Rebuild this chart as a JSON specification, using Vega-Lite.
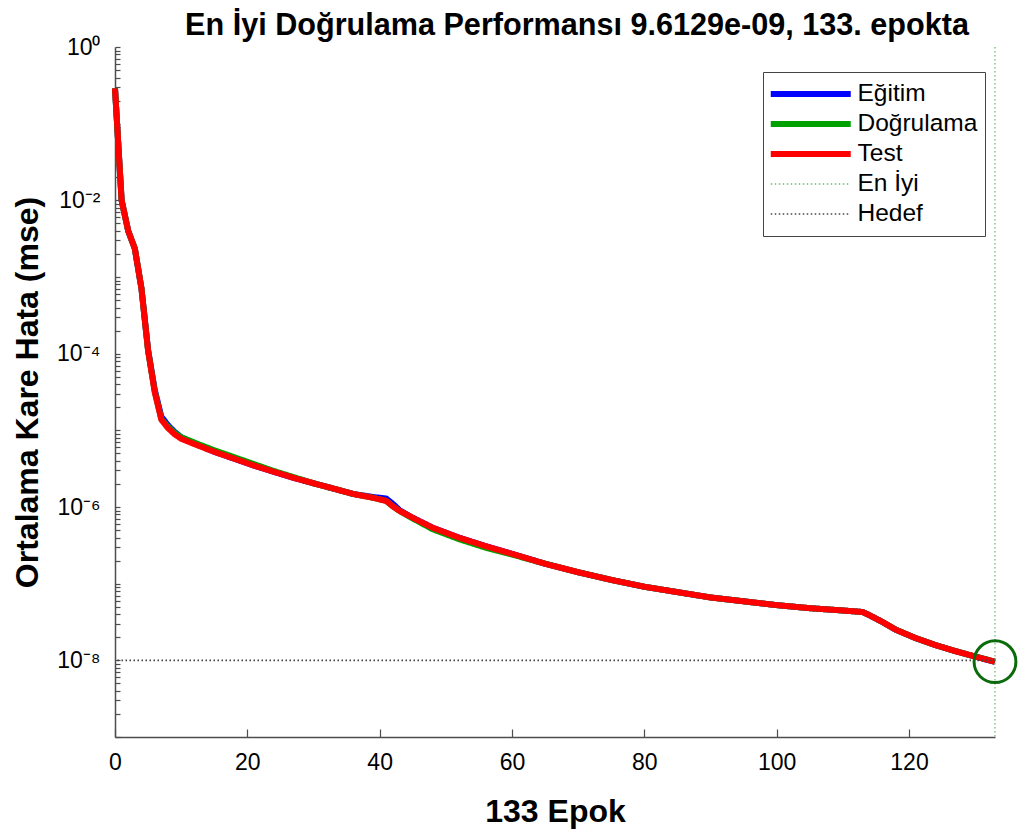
{
  "$schema": "https://vega.github.io/schema/vega-lite/v6.json",
  "width": 880,
  "height": 690,
  "autosize": {"type": "none"},
  "padding": {"left": 115, "top": 47, "right": 26, "bottom": 97},
  "background": "white",
  "title": {
    "text": "En İyi Doğrulama Performansı 9.6129e-09, 133. epokta",
    "font": "Liberation Sans",
    "fontSize": 30.6,
    "fontWeight": "bold",
    "color": "black",
    "anchor": "middle",
    "dx": 22,
    "offset": -6
  },
  "config": {
    "view": {"stroke": null},
    "axis": {
      "grid": false,
      "domainColor": "#4d4d4d",
      "domainWidth": 1.5,
      "tickColor": "#4d4d4d",
      "tickWidth": 1.2,
      "labelFont": "Liberation Sans",
      "labelFontSize": 23,
      "labelColor": "black",
      "titleFont": "Liberation Sans",
      "titleFontSize": 32,
      "titleFontWeight": "bold",
      "titleColor": "black"
    }
  },
  "datasets": {
    "curves": [
      {"epoch": 0, "Eğitim": 0.288, "Doğrulama": 0.288, "Test": 0.288},
      {"epoch": 1, "Eğitim": 0.0100, "Doğrulama": 0.0100, "Test": 0.0100},
      {"epoch": 2, "Eğitim": 0.00398, "Doğrulama": 0.00398, "Test": 0.00398},
      {"epoch": 3, "Eğitim": 0.00234, "Doğrulama": 0.00234, "Test": 0.00234},
      {"epoch": 4, "Eğitim": 0.000708, "Doğrulama": 0.000708, "Test": 0.000708},
      {"epoch": 5, "Eğitim": 0.000112, "Doğrulama": 0.000110, "Test": 0.000110},
      {"epoch": 6, "Eğitim": 0.0000339, "Doğrulama": 0.0000324, "Test": 0.0000316},
      {"epoch": 7, "Eğitim": 0.0000151, "Doğrulama": 0.0000141, "Test": 0.0000138},
      {"epoch": 8, "Eğitim": 0.0000117, "Doğrulama": 0.0000112, "Test": 0.0000107},
      {"epoch": 9, "Eğitim": 0.00000955, "Doğrulama": 0.00000933, "Test": 0.00000891},
      {"epoch": 10, "Eğitim": 0.00000813, "Doğrulama": 0.00000813, "Test": 0.00000776},
      {"epoch": 12, "Eğitim": 0.00000676, "Doğrulama": 0.00000692, "Test": 0.00000661},
      {"epoch": 15, "Eğitim": 0.00000525, "Doğrulama": 0.00000550, "Test": 0.00000525},
      {"epoch": 18, "Eğitim": 0.00000427, "Doğrulama": 0.00000447, "Test": 0.00000427},
      {"epoch": 21, "Eğitim": 0.00000347, "Doğrulama": 0.00000363, "Test": 0.00000347},
      {"epoch": 24, "Eğitim": 0.00000288, "Doğrulama": 0.00000295, "Test": 0.00000288},
      {"epoch": 27, "Eğitim": 0.00000240, "Doğrulama": 0.00000245, "Test": 0.00000240},
      {"epoch": 30, "Eğitim": 0.00000204, "Doğrulama": 0.00000204, "Test": 0.00000204},
      {"epoch": 33, "Eğitim": 0.00000174, "Doğrulama": 0.00000174, "Test": 0.00000174},
      {"epoch": 36, "Eğitim": 0.00000148, "Doğrulama": 0.00000148, "Test": 0.00000148},
      {"epoch": 39, "Eğitim": 0.00000135, "Doğrulama": 0.00000132, "Test": 0.00000132},
      {"epoch": 40, "Eğitim": 0.00000132, "Doğrulama": 0.00000126, "Test": 0.00000126},
      {"epoch": 41, "Eğitim": 0.00000129, "Doğrulama": 0.00000120, "Test": 0.00000120},
      {"epoch": 42, "Eğitim": 0.00000110, "Doğrulama": 0.00000102, "Test": 0.00000102},
      {"epoch": 43, "Eğitim": 0.000000912, "Doğrulama": 0.000000891, "Test": 0.000000891},
      {"epoch": 45, "Eğitim": 0.000000724, "Doğrulama": 0.000000708, "Test": 0.000000724},
      {"epoch": 48, "Eğitim": 0.000000537, "Doğrulama": 0.000000513, "Test": 0.000000537},
      {"epoch": 52, "Eğitim": 0.000000398, "Doğrulama": 0.000000380, "Test": 0.000000398},
      {"epoch": 56, "Eğitim": 0.000000309, "Doğrulama": 0.000000295, "Test": 0.000000309},
      {"epoch": 60, "Eğitim": 0.000000245, "Doğrulama": 0.000000240, "Test": 0.000000245},
      {"epoch": 65, "Eğitim": 0.000000182, "Doğrulama": 0.000000182, "Test": 0.000000182},
      {"epoch": 70, "Eğitim": 0.000000141, "Doğrulama": 0.000000141, "Test": 0.000000141},
      {"epoch": 75, "Eğitim": 0.000000112, "Doğrulama": 0.000000112, "Test": 0.000000112},
      {"epoch": 80, "Eğitim": 0.0000000912, "Doğrulama": 0.0000000912, "Test": 0.0000000912},
      {"epoch": 85, "Eğitim": 0.0000000776, "Doğrulama": 0.0000000776, "Test": 0.0000000776},
      {"epoch": 90, "Eğitim": 0.0000000661, "Doğrulama": 0.0000000661, "Test": 0.0000000661},
      {"epoch": 95, "Eğitim": 0.0000000589, "Doğrulama": 0.0000000589, "Test": 0.0000000589},
      {"epoch": 100, "Eğitim": 0.0000000525, "Doğrulama": 0.0000000525, "Test": 0.0000000525},
      {"epoch": 105, "Eğitim": 0.0000000479, "Doğrulama": 0.0000000479, "Test": 0.0000000479},
      {"epoch": 110, "Eğitim": 0.0000000447, "Doğrulama": 0.0000000447, "Test": 0.0000000447},
      {"epoch": 113, "Eğitim": 0.0000000427, "Doğrulama": 0.0000000427, "Test": 0.0000000427},
      {"epoch": 114, "Eğitim": 0.0000000389, "Doğrulama": 0.0000000389, "Test": 0.0000000389},
      {"epoch": 116, "Eğitim": 0.0000000316, "Doğrulama": 0.0000000316, "Test": 0.0000000316},
      {"epoch": 118, "Eğitim": 0.0000000251, "Doğrulama": 0.0000000251, "Test": 0.0000000251},
      {"epoch": 121, "Eğitim": 0.0000000195, "Doğrulama": 0.0000000195, "Test": 0.0000000195},
      {"epoch": 124, "Eğitim": 0.0000000158, "Doğrulama": 0.0000000158, "Test": 0.0000000158},
      {"epoch": 127, "Eğitim": 0.0000000132, "Doğrulama": 0.0000000132, "Test": 0.0000000132},
      {"epoch": 130, "Eğitim": 0.0000000112, "Doğrulama": 0.0000000112, "Test": 0.0000000112},
      {"epoch": 133, "Eğitim": 0.00000000955, "Doğrulama": 0.0000000096129, "Test": 0.00000000955}
    ],
    "best": [{"series": "En İyi", "epoch": 133, "mse": 0.0000000096129}],
    "goal": [{"series": "Hedef", "mse": 0.00000001}]
  },
  "layer": [
    {
      "data": {"name": "curves"},
      "transform": [{"fold": ["Eğitim", "Doğrulama", "Test"], "as": ["series", "mse"]}],
      "mark": {"type": "line", "strokeWidth": 6, "strokeJoin": "round", "strokeCap": "butt"},
      "encoding": {
        "x": {
          "field": "epoch",
          "type": "quantitative",
          "scale": {"domain": [0, 133], "nice": false, "zero": false},
          "axis": {
            "title": "133 Epok",
            "values": [0, 20, 40, 60, 80, 100, 120],
            "tickSize": -8,
            "labelPadding": 22,
            "titlePadding": 22,
            "labelFlush": false
          }
        },
        "y": {
          "field": "mse",
          "type": "quantitative",
          "scale": {"type": "log", "domain": [1e-9, 1], "nice": false},
          "axis": {
            "title": "Ortalama Kare Hata (mse)",
            "values": [1e-9, 2e-9, 3e-9, 4e-9, 5e-9, 6e-9, 7e-9, 8e-9, 9e-9,
                       1e-8, 2e-8, 3e-8, 4e-8, 5e-8, 6e-8, 7e-8, 8e-8, 9e-8,
                       1e-7, 2e-7, 3e-7, 4e-7, 5e-7, 6e-7, 7e-7, 8e-7, 9e-7,
                       1e-6, 2e-6, 3e-6, 4e-6, 5e-6, 6e-6, 7e-6, 8e-6, 9e-6,
                       1e-5, 2e-5, 3e-5, 4e-5, 5e-5, 6e-5, 7e-5, 8e-5, 9e-5,
                       0.0001, 0.0002, 0.0003, 0.0004, 0.0005, 0.0006, 0.0007, 0.0008, 0.0009,
                       0.001, 0.002, 0.003, 0.004, 0.005, 0.006, 0.007, 0.008, 0.009,
                       0.01, 0.02, 0.03, 0.04, 0.05, 0.06, 0.07, 0.08, 0.09,
                       0.1, 0.2, 0.3, 0.4, 0.5, 0.6, 0.7, 0.8, 0.9, 1],
            "labelExpr": "datum.value == 1 ? '10⁰' : datum.value == 0.01 ? '10⁻²' : datum.value == 0.0001 ? '10⁻⁴' : datum.value == 0.000001 ? '10⁻⁶' : datum.value == 1e-8 ? '10⁻⁸' : ''",
            "labelOverlap": false,
            "labelFlush": false,
            "labelAlign": "right",
            "tickSize": -5,
            "labelPadding": 20,
            "titlePadding": 12
          }
        },
        "color": {
          "field": "series",
          "type": "nominal",
          "scale": {
            "domain": ["Eğitim", "Doğrulama", "Test", "En İyi", "Hedef"],
            "range": ["#0000ff", "#00a000", "#ff0000", "#6cbf6c", "#444444"]
          },
          "legend": {
            "title": null,
            "orient": "none",
            "legendX": 648,
            "legendY": 25,
            "symbolType": "stroke",
            "symbolSize": 6400,
            "symbolOffset": 28.5,
            "clipHeight": 30,
            "labelFont": "Liberation Sans",
            "labelFontSize": 24.5,
            "labelColor": "black",
            "labelOffset": 34.5,
            "rowPadding": 0,
            "padding": 7,
            "strokeColor": "#444444",
            "fillColor": "white",
            "encode": {
              "symbols": {
                "update": {
                  "strokeWidth": {"signal": "datum.value == 'En İyi' || datum.value == 'Hedef' ? 1.3 : 6"}
                }
              }
            }
          }
        },
        "strokeDash": {
          "field": "series",
          "type": "nominal",
          "scale": {
            "domain": ["Eğitim", "Doğrulama", "Test", "En İyi", "Hedef"],
            "range": [[1, 0], [1, 0], [1, 0], [1.5, 2.5], [1.5, 2.5]]
          },
          "legend": {"title": null}
        }
      }
    },
    {
      "data": {"name": "best"},
      "mark": {"type": "rule", "strokeWidth": 1.3},
      "encoding": {
        "x": {"field": "epoch", "type": "quantitative"},
        "color": {"field": "series", "type": "nominal"},
        "strokeDash": {"field": "series", "type": "nominal"}
      }
    },
    {
      "data": {"name": "goal"},
      "mark": {"type": "rule", "strokeWidth": 1.6},
      "encoding": {
        "y": {"field": "mse", "type": "quantitative"},
        "color": {"field": "series", "type": "nominal"},
        "strokeDash": {"field": "series", "type": "nominal"}
      }
    },
    {
      "data": {"name": "best"},
      "mark": {"type": "point", "shape": "circle", "filled": false, "stroke": "#0b6b0b", "strokeWidth": 3, "opacity": 1, "size": 1750},
      "encoding": {
        "x": {"field": "epoch", "type": "quantitative"},
        "y": {"field": "mse", "type": "quantitative"}
      }
    }
  ]
}
